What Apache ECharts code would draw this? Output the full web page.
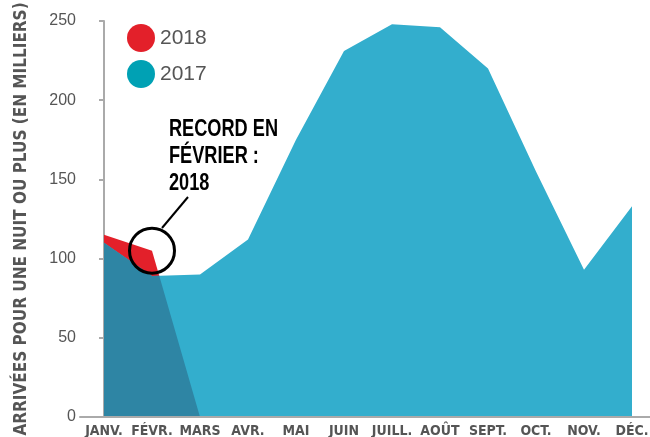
<!DOCTYPE html>
<html>
<head>
<meta charset="utf-8">
<script src="https://cdn.jsdelivr.net/npm/echarts@6/dist/echarts.min.js"></script>
<style>
html, body { margin: 0; padding: 0; background: #fff; }
#myCharts { width: 650px; height: 437px; }
</style>
</head>
<body>
<div id="myCharts"></div>
<script>
// données (en milliers)
const months = ["JANV.", "FÉVR.", "MARS", "AVR.", "MAI", "JUIN", "JUILL.", "AOÛT", "SEPT.", "OCT.", "NOV.", "DÉC."];
const arrivals2017 = [110, 89, 90, 112, 175, 231, 248, 246, 220, 155, 93, 133];
const arrivals2018 = [115, 105, 0];
const yTicks = [0, 50, 100, 150, 200, 250];

const condensed = "'DejaVu Sans Condensed', 'DejaVu Sans', sans-serif";
const sans = "'Liberation Sans', Arial, sans-serif";

// zone commune 2017 / 2018 : minimum des deux courbes, avec les croisements
function overlap(a, b) {
  let pts = [];
  for (let i = 0; i < b.length; i++) {
    pts.push([i, Math.min(a[i], b[i])]);
    if (i < b.length - 1) {
      let d0 = a[i] - b[i];
      let d1 = a[i + 1] - b[i + 1];
      if (d0 * d1 < 0) {
        let t = d0 / (d0 - d1);
        pts.push([i + t, a[i] + t * (a[i + 1] - a[i])]);
      }
    }
  }
  return pts;
}

const myCharts = echarts.init(document.getElementById("myCharts"));
let option = {
  animation: false,
  legend: {
    data: ["2018", "2017"],
    orient: "vertical",
    left: 122,
    top: 19,
    icon: "circle",
    itemWidth: 28,
    itemHeight: 28,
    itemGap: 8,
    selectedMode: false,
    textStyle: {
      fontFamily: sans,
      fontSize: 21,
      color: "#555"
    }
  },
  grid: {
    left: 80,
    right: -6,
    top: 21,
    bottom: 20,
    outerBoundsMode: "none"
  },
  xAxis: [
    {
      type: "category",
      data: months,
      boundaryGap: true,
      z: 5,
      axisLine: {
        lineStyle: { color: "#aaa", width: 2 }
      },
      axisTick: {
        length: 6,
        lineStyle: { color: "#aaa", width: 2 }
      },
      axisLabel: {
        interval: 0,
        margin: 7,
        fontFamily: condensed,
        fontWeight: "bold",
        fontSize: 14,
        color: "#555"
      }
    },
    {
      // axe caché pour la zone commune (points entre deux mois)
      type: "value",
      min: -0.5,
      max: months.length - 0.5,
      show: false
    }
  ],
  yAxis: {
    type: "value",
    min: yTicks[0],
    max: yTicks[yTicks.length - 1],
    interval: yTicks[1] - yTicks[0],
    name: "ARRIVÉES POUR UNE NUIT OU PLUS (EN MILLIERS)",
    nameLocation: "middle",
    nameGap: 50,
    nameTextStyle: {
      fontFamily: condensed,
      fontWeight: "bold",
      fontSize: 17,
      color: "#555"
    },
    axisLine: {
      show: true,
      lineStyle: { color: "#aaa", width: 2 }
    },
    axisTick: {
      show: true,
      length: 5,
      lineStyle: { color: "#aaa", width: 2 }
    },
    axisLabel: {
      margin: 4,
      fontFamily: sans,
      fontSize: 16,
      color: "#555"
    },
    splitLine: { show: false }
  },
  series: [
    {
      name: "2018",
      type: "line",
      data: arrivals2018,
      symbol: "none",
      lineStyle: { width: 0 },
      itemStyle: { color: "#E3202A" },
      areaStyle: { color: "#E3202A", opacity: 1 }
    },
    {
      name: "2017",
      type: "line",
      data: arrivals2017,
      symbol: "none",
      lineStyle: { width: 0 },
      itemStyle: { color: "#00A1B4" },
      areaStyle: { color: "#33AECD", opacity: 1 }
    },
    {
      name: "commun",
      type: "line",
      xAxisIndex: 1,
      data: overlap(arrivals2017, arrivals2018),
      symbol: "none",
      lineStyle: { width: 0 },
      itemStyle: { color: "#2E85A4" },
      areaStyle: { color: "#2E85A4", opacity: 1 },
      markPoint: {
        silent: true,
        symbol: "circle",
        symbolSize: 45,
        data: [{ coord: [1, arrivals2018[1]] }],
        itemStyle: {
          color: "rgba(0,0,0,0)",
          borderColor: "#000",
          borderWidth: 3
        },
        label: { show: false }
      }
    }
  ],
  graphic: [
    {
      type: "text",
      x: 169,
      y: 116,
      scaleX: 0.79,
      style: {
        text: "RECORD EN\nFÉVRIER :\n2018",
        font: "bold 23px " + sans,
        lineHeight: 27,
        fill: "#000"
      }
    },
    {
      type: "line",
      shape: { x1: 162, y1: 228, x2: 188, y2: 197 },
      style: { stroke: "#000", lineWidth: 2 }
    }
  ]
};
myCharts.setOption(option);
</script>
</body>
</html>
